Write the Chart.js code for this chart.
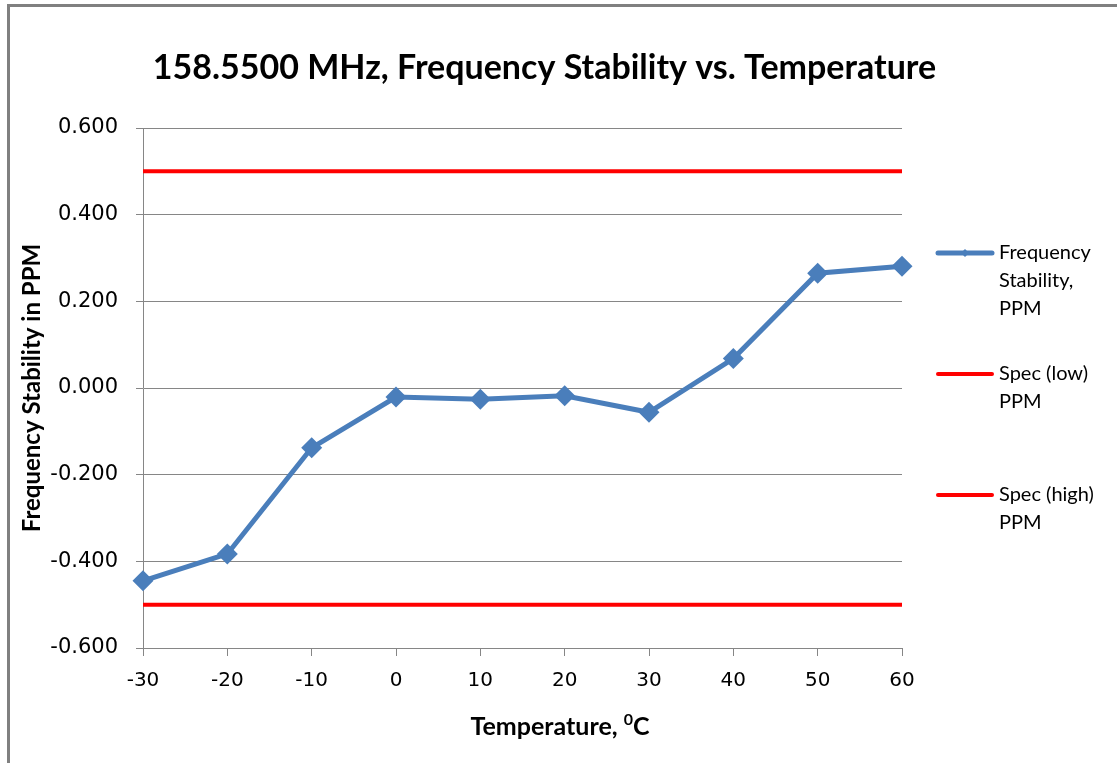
<!DOCTYPE html>
<html>
<head>
<meta charset="utf-8">
<script src="https://cdn.jsdelivr.net/npm/chart.js@4/dist/chart.umd.min.js"></script>
<style>
  html, body { margin: 0; padding: 0; background: #fff; overflow: hidden; }
  #frame { position: absolute; left: 7px; top: 4px; width: 1300px; height: 900px;
           border: 3px solid #808080; box-sizing: border-box; }
  #wrap { position: absolute; left: 0; top: 0; width: 1117px; height: 763px; }
</style>
</head>
<body>
<div id="frame"></div>
<div id="wrap"><canvas id="chart" width="1117" height="763"></canvas></div>
<script>
// values
const temperatures = [-30, -20, -10, 0, 10, 20, 30, 40, 50, 60];
const stabilityPpm = [-0.445, -0.383, -0.138, -0.021, -0.026, -0.018, -0.056, 0.068, 0.265, 0.281];
const specLowPpm  = [-0.5, -0.5, -0.5, -0.5, -0.5, -0.5, -0.5, -0.5, -0.5, -0.5];
const specHighPpm = [0.5, 0.5, 0.5, 0.5, 0.5, 0.5, 0.5, 0.5, 0.5, 0.5];
const seriesNames = ['Frequency Stability, PPM', 'Spec (low) PPM', 'Spec (high) PPM'];
const yTickValues = [-0.6, -0.4, -0.2, 0, 0.2, 0.4, 0.6];
const chartTitle = '158.5500 MHz, Frequency Stability vs. Temperature';
const yTitle = 'Frequency Stability in PPM';
const xTitleParts = [['Temperature, ', false], ['0', true], ['C', false]];

const BLUE = '#4A7EBB';
const RED = '#FF0000';
const GRID = '#868686';

function points(ys) {
  return temperatures.map((t, i) => ({ x: t, y: ys[i] }));
}

// Excel-style side legend, labels wrapped onto several lines
const sideLegend = {
  id: 'sideLegend',
  afterDraw(chart) {
    const ctx = chart.ctx;
    const lineX0 = 938, lineX1 = 992, textX = 999;
    const firstY = 253, itemGap = 121, lineGap = 28, maxWidth = 104;
    ctx.save();
    ctx.font = '20px Lato';
    ctx.textBaseline = 'middle';
    ctx.fillStyle = '#000';
    chart.data.datasets.forEach((ds, i) => {
      const y = firstY + i * itemGap;
      ctx.strokeStyle = ds.borderColor;
      ctx.lineWidth = ds.borderWidth;
      ctx.lineCap = 'round';
      ctx.beginPath();
      ctx.moveTo(lineX0, y);
      ctx.lineTo(lineX1, y);
      ctx.stroke();
      if (ds.pointRadius > 0) {
        ctx.fillStyle = ds.borderColor;
        ctx.beginPath();
        const cx = (lineX0 + lineX1) / 2, r = 4;
        ctx.moveTo(cx, y - r); ctx.lineTo(cx + r, y); ctx.lineTo(cx, y + r); ctx.lineTo(cx - r, y);
        ctx.closePath();
        ctx.fill();
        ctx.fillStyle = '#000';
      }
      // word wrap
      const words = ds.label.split(' ');
      const lines = [];
      let cur = '';
      words.forEach(w => {
        const test = cur ? cur + ' ' + w : w;
        if (cur && ctx.measureText(test).width > maxWidth) {
          lines.push(cur);
          cur = w;
        } else {
          cur = test;
        }
      });
      if (cur) lines.push(cur);
      lines.forEach((l, k) => ctx.fillText(l, textX, y + k * lineGap));
    });
    ctx.restore();
  }
};

// x axis title with a raised degree zero
const xAxisTitle = {
  id: 'xAxisTitle',
  afterDraw(chart) {
    const ctx = chart.ctx;
    const cx = 560, cy = 727;
    const big = 'bold 25px Lato', small = 'bold 16px Lato';
    ctx.save();
    ctx.textBaseline = 'middle';
    ctx.fillStyle = '#000';
    let total = 0;
    xTitleParts.forEach(([t, sup]) => {
      ctx.font = sup ? small : big;
      total += ctx.measureText(t).width;
    });
    let x = cx - total / 2;
    xTitleParts.forEach(([t, sup]) => {
      ctx.font = sup ? small : big;
      ctx.fillText(t, x, sup ? cy - 7 : cy);
      x += ctx.measureText(t).width;
    });
    ctx.restore();
  }
};

new Chart(document.getElementById('chart'), {
  type: 'line',
  data: {
    datasets: [
      {
        label: seriesNames[0],
        data: points(stabilityPpm),
        borderColor: BLUE,
        backgroundColor: BLUE,
        borderWidth: 5,
        pointStyle: 'rectRot',
        pointRadius: 10.5,
        pointBorderWidth: 0,
        pointBackgroundColor: BLUE,
        tension: 0,
        clip: false
      },
      {
        label: seriesNames[1],
        data: points(specLowPpm),
        borderColor: RED,
        borderWidth: 4,
        pointRadius: 0
      },
      {
        label: seriesNames[2],
        data: points(specHighPpm),
        borderColor: RED,
        borderWidth: 4,
        pointRadius: 0
      }
    ]
  },
  options: {
    responsive: false,
    animation: false,
    events: [],
    layout: { padding: { left: 0, right: 28, top: 0, bottom: 0 } },
    plugins: {
      legend: { display: false },
      tooltip: { enabled: false },
      title: {
        display: true,
        text: chartTitle,
        color: '#000',
        font: { family: 'Lato', size: 34, weight: 'bold', lineHeight: 1.2 },
        padding: { top: 48, bottom: 39.2 }
      }
    },
    scales: {
      x: {
        type: 'linear',
        min: -30,
        max: 60,
        ticks: {
          stepSize: 10,
          padding: 13,
          color: '#000',
          font: { family: 'DejaVu Sans', size: 20 }
        },
        grid: { drawOnChartArea: false, drawTicks: true, tickLength: 8, color: GRID },
        border: { display: true, color: GRID },
        afterFit(s) { s.height = 763 - 648; }
      },
      y: {
        min: -0.6,
        max: 0.6,
        afterBuildTicks(s) { s.ticks = yTickValues.map(v => ({ value: v })); },
        ticks: {
          padding: 18,
          color: '#000',
          font: { family: 'DejaVu Sans', size: 21 },
          callback: v => (Math.abs(v) < 1e-9 ? 0 : v).toFixed(3)
        },
        grid: { color: GRID, tickLength: 7 },
        border: { display: true, color: GRID },
        title: {
          display: true,
          text: yTitle,
          color: '#000',
          font: { family: 'Lato', size: 24, weight: 'bold', lineHeight: 1.2 },
          padding: { top: 18, bottom: 0 }
        },
        afterFit(s) { s.width = 143; }
      },
      spacer: {
        position: 'right',
        display: true,
        grid: { display: false },
        border: { display: false },
        ticks: { display: false },
        afterFit(s) { s.width = 187; }
      }
    }
  },
  plugins: [sideLegend, xAxisTitle]
});
</script>
</body>
</html>
